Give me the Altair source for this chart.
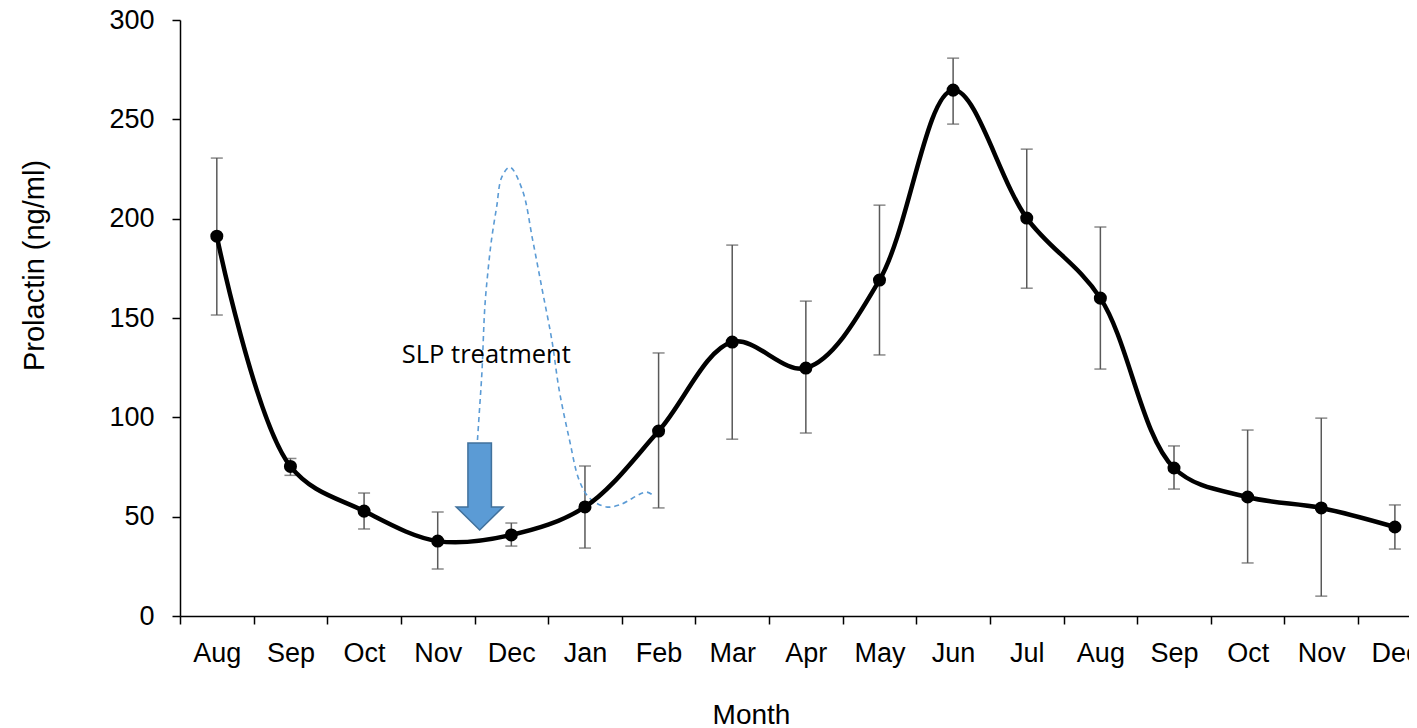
import json
import altair as alt
import pandas as pd

# ---- data ----
month_names = ["Aug", "Sep", "Oct", "Nov", "Dec", "Jan", "Feb", "Mar", "Apr",
               "May", "Jun", "Jul", "Aug", "Sep", "Oct", "Nov", "Dec"]
month_idx = list(range(len(month_names)))
prl_mean = [191.2, 75.3, 52.8, 37.7, 40.8, 54.9, 93.1, 137.9, 124.8,
            169.1, 264.7, 200.3, 160.0, 74.5, 59.9, 54.4, 44.8]
prl_low = [151.5, 70.8, 43.8, 23.7, 35.2, 34.2, 54.4, 89.0, 92.1,
           131.4, 247.6, 165.0, 124.3, 63.9, 26.7, 10.0, 33.7]
prl_high = [230.5, 79.3, 61.9, 52.3, 46.8, 75.5, 132.4, 186.7, 158.5,
            206.8, 280.8, 235.0, 195.8, 85.6, 93.6, 99.6, 55.9]

# SLP-treatment dashed response curve (x in month-index units)
slp_x = [3.54, 3.57, 3.60, 3.64, 3.68, 3.73, 3.80, 3.87, 3.98, 4.15, 4.29,
         4.42, 4.55, 4.65, 4.79, 4.92, 5.06, 5.29, 5.47, 5.83, 5.92]
slp_y = [88.6, 105.2, 122.3, 155.5, 172.6, 189.2, 205.8, 220.9, 225.9, 214.4,
         189.2, 164.1, 138.9, 113.7, 88.6, 68.5, 59.4, 54.9, 55.9, 62.4, 60.9]

arrow_x = [3.57]
arrow_y = [65.2]
label_x = [3.66]
label_y = [127.3]
label_text = ["SLP treatment"]

df = pd.DataFrame({"idx": month_idx, "month": month_names, "mean": prl_mean,
                   "lo": prl_low, "hi": prl_high})
df_slp = pd.DataFrame({"x": slp_x, "y": slp_y})
df_arrow = pd.DataFrame({"x": arrow_x, "y": arrow_y})
df_label = pd.DataFrame({"x": label_x, "y": label_y, "t": label_text})

BAND = 73.63
W = BAND * len(month_names)
H = 596
FONT = "Liberation Sans"
LEFT = 172
TOTAL_W = 1401

tick_vals = [i - 0.5 for i in range(len(month_names) + 1)]
label_expr = json.dumps(month_names) + "[round(datum.value + 0.5)] || ''"

xscale = alt.Scale(domain=[-0.5, len(month_names) - 0.5], nice=False, zero=False)
yscale = alt.Scale(domain=[0, 300], nice=False)

x_axis = alt.Axis(values=tick_vals, labelExpr=label_expr, labelOffset=BAND / 2,
                  grid=False, tickSize=8, tickColor="#000", tickWidth=1.5,
                  domainColor="#000", domainWidth=1.5,
                  labelFont=FONT, labelFontSize=27, labelColor="#000",
                  labelBaseline="alphabetic", labelPadding=37, labelFlush=False,
                  labelOverlap=False, labelBound=False,
                  title="Month", titleFont=FONT, titleFontSize=28,
                  titleFontWeight="normal", titleColor="#000",
                  titleX=571, titleY=107, titleBaseline="alphabetic",
                  titleAlign="center")
y_axis = alt.Axis(values=[0, 50, 100, 150, 200, 250, 300], grid=False,
                  tickSize=8, tickColor="#000", tickWidth=1.5,
                  domainColor="#000", domainWidth=1.5,
                  labelFont=FONT, labelFontSize=27, labelColor="#000",
                  labelPadding=18, labelFlush=False,
                  title="Prolactin (ng/ml)", titleFont=FONT, titleFontSize=29,
                  titleFontWeight="normal", titleColor="#000",
                  titleX=-137, titleY=245, titleBaseline="alphabetic",
                  titleAlign="center", titleAngle=270)

base = alt.Chart(df)

err_rule = base.mark_rule(color="#595959", strokeWidth=1.5).encode(
    x=alt.X("idx:Q", scale=xscale, axis=x_axis),
    y=alt.Y("lo:Q", scale=yscale, axis=y_axis),
    y2="hi:Q",
)
cap_lo = base.mark_tick(color="#595959", thickness=1.5, size=12,
                        orient="horizontal").encode(
    x=alt.X("idx:Q", scale=xscale), y=alt.Y("lo:Q", scale=yscale))
cap_hi = base.mark_tick(color="#595959", thickness=1.5, size=12,
                        orient="horizontal").encode(
    x=alt.X("idx:Q", scale=xscale), y=alt.Y("hi:Q", scale=yscale))

slp_line = alt.Chart(df_slp).mark_line(
    color="#5B9BD5", strokeWidth=1.6, strokeDash=[5, 4],
    interpolate="catmull-rom").encode(
    x=alt.X("x:Q", scale=xscale), y=alt.Y("y:Q", scale=yscale))

main_line = base.mark_line(color="#000", strokeWidth=4.5,
                           interpolate="catmull-rom").encode(
    x=alt.X("idx:Q", scale=xscale), y=alt.Y("mean:Q", scale=yscale))

points = base.mark_point(shape="circle", filled=True, color="#000", size=170,
                         opacity=1).encode(
    x=alt.X("idx:Q", scale=xscale), y=alt.Y("mean:Q", scale=yscale))

arrow_path = ("M -0.27 -1 L 0.27 -1 L 0.27 0.47 L 0.54 0.47 L 0 1 "
              "L -0.54 0.47 L -0.27 0.47 Z")
arrow = alt.Chart(df_arrow).mark_point(
    shape=arrow_path, filled=True, fill="#5B9BD5", stroke="#41719C",
    strokeWidth=1.5, size=87 * 87, opacity=1, fillOpacity=1).encode(
    x=alt.X("x:Q", scale=xscale), y=alt.Y("y:Q", scale=yscale))

label = alt.Chart(df_label).mark_text(
    font="Open Sans", fontSize=25.5, color="#000", align="center",
    baseline="alphabetic").encode(
    x=alt.X("x:Q", scale=xscale), y=alt.Y("y:Q", scale=yscale), text="t:N")

chart = alt.layer(err_rule, cap_lo, cap_hi, slp_line, main_line, points,
                  arrow, label).properties(
    width=W, height=H,
    padding={"left": LEFT, "top": 12, "right": TOTAL_W - LEFT - W,
             "bottom": 112},
    autosize=alt.AutoSizeParams(type="none"),
    background="#ffffff",
).configure_view(stroke=None)

chart.save("out.html", embed_options={"renderer": "svg", "actions": False})
